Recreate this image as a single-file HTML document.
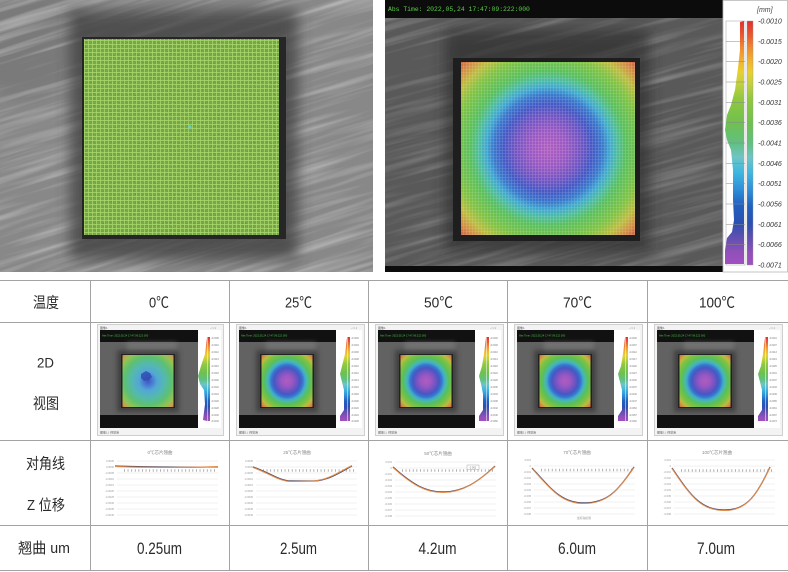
<!DOCTYPE html>
<html><head><meta charset="utf-8">
<style>
html,body{margin:0;padding:0;background:#fff;}
body{width:788px;height:572px;overflow:hidden;}
svg{display:block;font-family:"Liberation Sans","Noto Sans CJK SC",sans-serif;}
</style></head>
<body>
<svg width="788" height="572" viewBox="0 0 788 572" xmlns="http://www.w3.org/2000/svg">
<defs>
  <filter id="streak" x="0" y="0" width="1" height="1">
    <feTurbulence type="fractalNoise" baseFrequency="0.006 0.14" numOctaves="3" seed="4"/>
    <feColorMatrix type="matrix" values="0 0 0 0 1  0 0 0 0 1  0 0 0 0 1  1.6 0 0 0 -0.72"/>
  </filter>
  <filter id="speck" x="0" y="0" width="1" height="1">
    <feTurbulence type="fractalNoise" baseFrequency="0.9" numOctaves="1" seed="7"/>
    <feColorMatrix type="matrix" values="0 0 0 0 0.1  0 0 0 0 0.15  0 0 0 0 0.05  2.2 0 0 0 -1.0"/>
  </filter>
  <filter id="blur7" x="-0.3" y="-0.3" width="1.6" height="1.6"><feGaussianBlur stdDeviation="7"/></filter>
  <filter id="blur2" x="-0.3" y="-0.3" width="1.6" height="1.6"><feGaussianBlur stdDeviation="2.5"/></filter>
  <pattern id="ggrid" width="4" height="4" patternUnits="userSpaceOnUse">
    <path d="M0 0.5H4M0.5 0V4" stroke="#b4e474" stroke-width="0.7" fill="none"/>
  </pattern>
  <pattern id="wgrid" width="3" height="3" patternUnits="userSpaceOnUse">
    <path d="M0 0.5H3M0.5 0V3" stroke="#ffffff" stroke-width="0.6" fill="none" opacity="0.22"/>
  </pattern>
  <radialGradient id="warp" cx="0.5" cy="0.5" r="0.71">
    <stop offset="0" stop-color="#b05cc0"/>
    <stop offset="0.15" stop-color="#9a58c2"/>
    <stop offset="0.27" stop-color="#7054c2"/>
    <stop offset="0.36" stop-color="#4458c4"/>
    <stop offset="0.44" stop-color="#3878cc"/>
    <stop offset="0.5" stop-color="#40a8d0"/>
    <stop offset="0.56" stop-color="#4cbca0"/>
    <stop offset="0.63" stop-color="#58bf5c"/>
    <stop offset="0.76" stop-color="#80c242"/>
    <stop offset="0.85" stop-color="#bcbc40"/>
    <stop offset="0.93" stop-color="#d48c44"/>
    <stop offset="1" stop-color="#cc6040"/>
  </radialGradient>
  <radialGradient id="warp0" cx="0.5" cy="0.5" r="0.71">
    <stop offset="0" stop-color="#3a58c0"/>
    <stop offset="0.12" stop-color="#4a78d0"/>
    <stop offset="0.25" stop-color="#52a6d6"/>
    <stop offset="0.45" stop-color="#54b8b2"/>
    <stop offset="0.65" stop-color="#5cc072"/>
    <stop offset="0.82" stop-color="#92c452"/>
    <stop offset="0.93" stop-color="#c8a050"/>
    <stop offset="1" stop-color="#d07048"/>
  </radialGradient>
  <linearGradient id="cbar" x1="0" y1="0" x2="0" y2="1">
    <stop offset="0" stop-color="#e03030"/>
    <stop offset="0.06" stop-color="#e85a30"/>
    <stop offset="0.11" stop-color="#f08a30"/>
    <stop offset="0.16" stop-color="#f0b030"/>
    <stop offset="0.21" stop-color="#e8d030"/>
    <stop offset="0.26" stop-color="#c0d040"/>
    <stop offset="0.32" stop-color="#90c840"/>
    <stop offset="0.42" stop-color="#70c050"/>
    <stop offset="0.5" stop-color="#60c080"/>
    <stop offset="0.56" stop-color="#70c4c4"/>
    <stop offset="0.62" stop-color="#40b8e0"/>
    <stop offset="0.69" stop-color="#3090d8"/>
    <stop offset="0.76" stop-color="#2060c0"/>
    <stop offset="0.83" stop-color="#2a50b0"/>
    <stop offset="0.89" stop-color="#6050b0"/>
    <stop offset="0.95" stop-color="#9050b8"/>
    <stop offset="1" stop-color="#a050c0"/>
  </linearGradient>
</defs>

<!-- ============ LEFT PHOTO ============ -->
<svg x="0" y="0" width="373" height="272">
  <rect width="373" height="272" fill="#888888"/>
  <ellipse cx="20" cy="40" rx="70" ry="60" fill="#6e6e6e" opacity="0.5" filter="url(#blur7)"/>
  <g transform="rotate(-17 186 136)" opacity="0.55">
    <rect x="-120" y="-160" width="620" height="600" filter="url(#streak)"/>
  </g>
  <rect x="70" y="10" width="228" height="250" fill="#383838" opacity="0.7" filter="url(#blur7)"/>
  <rect x="82" y="37" width="204" height="202" fill="#262626"/>
  <rect x="84" y="39" width="195" height="196" fill="#7cac4a"/>
  <rect x="84" y="39" width="195" height="196" filter="url(#speck)" opacity="0.75"/>
  <rect x="84" y="39" width="195" height="196" fill="url(#ggrid)" opacity="0.85"/>
  <circle cx="190" cy="127" r="1.6" fill="#5fd0d0"/>
</svg>

<!-- ============ RIGHT PHOTO ============ -->
<svg x="385" y="0" width="338" height="272">
  <rect width="338" height="272" fill="#595959"/>
  <g transform="rotate(-15 169 136)" opacity="0.35">
    <rect x="-120" y="-160" width="600" height="600" filter="url(#streak)"/>
  </g>
  <rect x="60" y="30" width="205" height="222" fill="#262626" opacity="0.6" filter="url(#blur7)"/>
  <rect x="68" y="58" width="187" height="183" fill="#1e1e1e"/>
  <rect x="76" y="62" width="174" height="173" fill="url(#warp)"/>
  <rect x="76" y="62" width="174" height="173" fill="url(#wgrid)"/>
  <rect x="0" y="0" width="338" height="18" fill="#0c0c0c"/>
  <text x="3" y="11" font-family="Liberation Mono, monospace" font-size="6.4" fill="#5ccc4a">Abs Time: 2022,05,24    17:47:09:222:000</text>
  <rect x="0" y="266" width="338" height="6" fill="#0c0c0c"/>
</svg>

<!-- colorbar panel -->
<rect x="723" y="0.5" width="64.5" height="271.5" fill="#fff" stroke="#b8b8b8" stroke-width="0.8"/>
<text x="757" y="12" font-size="7" font-style="italic" fill="#444">[mm]</text>
<rect x="726" y="21" width="19" height="244" fill="#fff" stroke="#a0a0a0" stroke-width="0.5"/>
<polygon points="744,21 740,22 740,50 738,68 735,90 731,105 727,115 725,130 727,140 731,150 733,170 733,200 734,220 732,232 727,238 725,250 725,264 744,264" fill="url(#cbar)"/>
<g stroke="#888" stroke-width="0.5">
  <path d="M726 41.3H745M726 61.7H745M726 82H745M726 102.3H745M726 122.7H745M726 143H745M726 163.3H745M726 183.7H745M726 204H745M726 224.3H745M726 244.7H745"/>
</g>
<rect x="747" y="21" width="6" height="244" fill="url(#cbar)" stroke="#999" stroke-width="0.4"/>
<g font-size="7" font-style="italic" fill="#333">
  <text x="758" y="23.5">-0.0010</text>
  <text x="758" y="43.8">-0.0015</text>
  <text x="758" y="64.2">-0.0020</text>
  <text x="758" y="84.5">-0.0025</text>
  <text x="758" y="104.8">-0.0031</text>
  <text x="758" y="125.2">-0.0036</text>
  <text x="758" y="145.5">-0.0041</text>
  <text x="758" y="165.8">-0.0046</text>
  <text x="758" y="186.1">-0.0051</text>
  <text x="758" y="206.5">-0.0056</text>
  <text x="758" y="226.8">-0.0061</text>
  <text x="758" y="247.1">-0.0066</text>
  <text x="758" y="267.5">-0.0071</text>
</g>

<!-- ============ TABLE ============ -->
<g stroke="#a3a3a3" stroke-width="1">
  <line x1="0" y1="280.5" x2="788" y2="280.5"/>
  <line x1="0" y1="322.5" x2="788" y2="322.5"/>
  <line x1="0" y1="440.5" x2="788" y2="440.5"/>
  <line x1="0" y1="525.5" x2="788" y2="525.5"/>
  <line x1="0" y1="570.5" x2="788" y2="570.5"/>
  <line x1="90.5" y1="280" x2="90.5" y2="571"/>
  <line x1="229.5" y1="280" x2="229.5" y2="571"/>
  <line x1="368.5" y1="280" x2="368.5" y2="571"/>
  <line x1="507.5" y1="280" x2="507.5" y2="571"/>
  <line x1="647.5" y1="280" x2="647.5" y2="571"/>
</g>

<g fill="#2a2a2a" font-size="15" text-anchor="middle">
  <text x="46" y="307.5" textLength="26" lengthAdjust="spacingAndGlyphs">温度</text>
  <text x="45.5" y="367.5" font-size="14" textLength="17" lengthAdjust="spacingAndGlyphs">2D</text>
  <text x="46" y="408.5" textLength="26" lengthAdjust="spacingAndGlyphs">视图</text>
  <text x="45.5" y="468.5" textLength="39" lengthAdjust="spacingAndGlyphs">对角线</text>
  <text x="46" y="510" textLength="38" lengthAdjust="spacingAndGlyphs">Z 位移</text>
  <text x="44" y="553" textLength="52" lengthAdjust="spacingAndGlyphs">翘曲 um</text>

  <text x="159" y="307.5" textLength="20" lengthAdjust="spacingAndGlyphs">0℃</text>
  <text x="298.5" y="307.5" textLength="27" lengthAdjust="spacingAndGlyphs">25℃</text>
  <text x="438.5" y="307.5" textLength="29" lengthAdjust="spacingAndGlyphs">50℃</text>
  <text x="577.5" y="307.5" textLength="29" lengthAdjust="spacingAndGlyphs">70℃</text>
  <text x="717" y="307.5" textLength="36" lengthAdjust="spacingAndGlyphs">100℃</text>

  <g font-size="16.5">
  <text x="159.5" y="554" textLength="45" lengthAdjust="spacingAndGlyphs">0.25um</text>
  <text x="298.5" y="554" textLength="37" lengthAdjust="spacingAndGlyphs">2.5um</text>
  <text x="437.5" y="554" textLength="38" lengthAdjust="spacingAndGlyphs">4.2um</text>
  <text x="577" y="554" textLength="38" lengthAdjust="spacingAndGlyphs">6.0um</text>
  <text x="716" y="554" textLength="38" lengthAdjust="spacingAndGlyphs">7.0um</text>
  </g>
</g>

<!-- ============ THUMBNAILS ============ -->
<g transform="translate(97,324)">
  <rect x="0.5" y="0.5" width="126" height="111" fill="#f3f3f3" stroke="#cfcfcf"/>
  <text x="3" y="4.8" font-size="3" fill="#555">图像1</text>
  <text x="113" y="4.8" font-size="3" fill="#777">- □ ×</text>
  <rect x="3" y="6" width="98" height="12" fill="#111"/>
  <text x="5" y="12.5" font-size="2.6" fill="#4c4">Abs Time: 2022,05,24    17:47:09:222:000</text>
  <rect x="3" y="18" width="98" height="73" fill="#626262"/>
  <rect x="30" y="18" width="50" height="12" fill="#8a8a8a" opacity="0.45" filter="url(#blur2)"/>
  <rect x="20" y="26" width="62" height="62" fill="#2a2a2a" opacity="0.6" filter="url(#blur2)"/>
  <rect x="24" y="30" width="54" height="54" fill="#222"/>
  <rect x="25.5" y="31" width="51" height="52" fill="url(#warp0)"/>
  <path d="M44 50l5-3 4 2 2 4-3 3-5 1-3-3z" fill="#3048b0" opacity="0.8"/>
  <rect x="3" y="91" width="98" height="13" fill="#111"/>
  <rect x="101" y="6" width="23" height="98" fill="#fff"/>
  <polygon points="110,14 108,30 104,42 101,52 103,60 107,66 108,80 106,96 110,97" fill="url(#cbar)"/>
  <rect x="110.5" y="13" width="2.5" height="84" fill="url(#cbar)"/>
  <g font-size="2.3" fill="#777">
    <text x="114" y="15">-0.0008</text><text x="114" y="22">-0.0010</text><text x="114" y="29">-0.0012</text><text x="114" y="36">-0.0014</text><text x="114" y="43">-0.0016</text><text x="114" y="50">-0.0018</text><text x="114" y="57">-0.0020</text><text x="114" y="64">-0.0022</text><text x="114" y="71">-0.0024</text><text x="114" y="78">-0.0026</text><text x="114" y="85">-0.0028</text><text x="114" y="92">-0.0030</text><text x="114" y="98">-0.0032</text>
  </g>
  <text x="3" y="109.5" font-size="3" fill="#666">图像1 | 视觉库</text>
</g>

<g transform="translate(236,324)">
  <rect x="0.5" y="0.5" width="128" height="111" fill="#f3f3f3" stroke="#cfcfcf"/>
  <text x="3" y="4.8" font-size="3" fill="#555">图像1</text>
  <text x="115" y="4.8" font-size="3" fill="#777">- □ ×</text>
  <rect x="3" y="6" width="97" height="12" fill="#111"/>
  <text x="5" y="12.5" font-size="2.6" fill="#4c4">Abs Time: 2022,05,24    17:47:09:222:000</text>
  <rect x="3" y="18" width="97" height="73" fill="#626262"/>
  <rect x="30" y="18" width="50" height="12" fill="#8a8a8a" opacity="0.45" filter="url(#blur2)"/>
  <rect x="20" y="26" width="62" height="62" fill="#2a2a2a" opacity="0.6" filter="url(#blur2)"/>
  <rect x="24" y="30" width="54" height="54" fill="#222"/>
  <rect x="25.5" y="31" width="51" height="52" fill="url(#warp)"/>
  <rect x="3" y="91" width="97" height="13" fill="#111"/>
  <rect x="100" y="6" width="26" height="98" fill="#fff"/>
  <polygon points="111,14 109,30 106,42 104,50 106,58 108,66 108,86 104,92 104,97 111,97" fill="url(#cbar)"/>
  <rect x="111.5" y="13" width="2.5" height="84" fill="url(#cbar)"/>
  <g font-size="2.3" fill="#777">
    <text x="115" y="15">-0.0002</text><text x="115" y="22">-0.0004</text><text x="115" y="29">-0.0006</text><text x="115" y="36">-0.0008</text><text x="115" y="43">-0.0010</text><text x="115" y="50">-0.0012</text><text x="115" y="57">-0.0014</text><text x="115" y="64">-0.0016</text><text x="115" y="71">-0.0018</text><text x="115" y="78">-0.0020</text><text x="115" y="85">-0.0022</text><text x="115" y="92">-0.0024</text><text x="115" y="98">-0.0026</text>
  </g>
  <text x="3" y="109.5" font-size="3" fill="#666">图像1 | 视觉库</text>
</g>

<g transform="translate(375,324)">
  <rect x="0.5" y="0.5" width="128" height="111" fill="#f3f3f3" stroke="#cfcfcf"/>
  <text x="3" y="4.8" font-size="3" fill="#555">图像1</text>
  <text x="115" y="4.8" font-size="3" fill="#777">- □ ×</text>
  <rect x="3" y="6" width="97" height="12" fill="#111"/>
  <text x="5" y="12.5" font-size="2.6" fill="#4c4">Abs Time: 2022,05,24    17:47:09:222:000</text>
  <rect x="3" y="18" width="97" height="73" fill="#626262"/>
  <rect x="30" y="18" width="50" height="12" fill="#8a8a8a" opacity="0.45" filter="url(#blur2)"/>
  <rect x="20" y="26" width="62" height="62" fill="#2a2a2a" opacity="0.6" filter="url(#blur2)"/>
  <rect x="24" y="30" width="54" height="54" fill="#222"/>
  <rect x="25.5" y="31" width="51" height="52" fill="url(#warp)"/>
  <rect x="3" y="91" width="97" height="13" fill="#111"/>
  <rect x="100" y="6" width="26" height="98" fill="#fff"/>
  <polygon points="111,14 109,30 107,42 104,52 106,60 108,70 108,86 104,92 104,97 111,97" fill="url(#cbar)"/>
  <rect x="111.5" y="13" width="2.5" height="84" fill="url(#cbar)"/>
  <g font-size="2.3" fill="#777">
    <text x="115" y="15">-0.0002</text><text x="115" y="22">-0.0006</text><text x="115" y="29">-0.0010</text><text x="115" y="36">-0.0014</text><text x="115" y="43">-0.0018</text><text x="115" y="50">-0.0022</text><text x="115" y="57">-0.0026</text><text x="115" y="64">-0.0030</text><text x="115" y="71">-0.0034</text><text x="115" y="78">-0.0038</text><text x="115" y="85">-0.0042</text><text x="115" y="92">-0.0046</text><text x="115" y="98">-0.0050</text>
  </g>
  <text x="3" y="109.5" font-size="3" fill="#666">图像1 | 视觉库</text>
</g>

<g transform="translate(514,324)">
  <rect x="0.5" y="0.5" width="128" height="111" fill="#f3f3f3" stroke="#cfcfcf"/>
  <text x="3" y="4.8" font-size="3" fill="#555">图像1</text>
  <text x="115" y="4.8" font-size="3" fill="#777">- □ ×</text>
  <rect x="3" y="6" width="97" height="12" fill="#111"/>
  <text x="5" y="12.5" font-size="2.6" fill="#4c4">Abs Time: 2022,05,24    17:47:09:222:000</text>
  <rect x="3" y="18" width="97" height="73" fill="#626262"/>
  <rect x="30" y="18" width="50" height="12" fill="#8a8a8a" opacity="0.45" filter="url(#blur2)"/>
  <rect x="20" y="26" width="62" height="62" fill="#2a2a2a" opacity="0.6" filter="url(#blur2)"/>
  <rect x="24" y="30" width="54" height="54" fill="#222"/>
  <rect x="25.5" y="31" width="51" height="52" fill="url(#warp)"/>
  <rect x="3" y="91" width="97" height="13" fill="#111"/>
  <rect x="100" y="6" width="26" height="98" fill="#fff"/>
  <polygon points="111,14 109,30 107,42 104,50 106,58 108,66 108,86 104,92 104,97 111,97" fill="url(#cbar)"/>
  <rect x="111.5" y="13" width="2.5" height="84" fill="url(#cbar)"/>
  <g font-size="2.3" fill="#777">
    <text x="115" y="15">-0.0002</text><text x="115" y="22">-0.0007</text><text x="115" y="29">-0.0012</text><text x="115" y="36">-0.0017</text><text x="115" y="43">-0.0022</text><text x="115" y="50">-0.0027</text><text x="115" y="57">-0.0032</text><text x="115" y="64">-0.0037</text><text x="115" y="71">-0.0042</text><text x="115" y="78">-0.0047</text><text x="115" y="85">-0.0052</text><text x="115" y="92">-0.0057</text><text x="115" y="98">-0.0062</text>
  </g>
  <text x="3" y="109.5" font-size="3" fill="#666">图像1 | 视觉库</text>
</g>

<g transform="translate(654,324)">
  <rect x="0.5" y="0.5" width="128" height="111" fill="#f3f3f3" stroke="#cfcfcf"/>
  <text x="3" y="4.8" font-size="3" fill="#555">图像1</text>
  <text x="115" y="4.8" font-size="3" fill="#777">- □ ×</text>
  <rect x="3" y="6" width="97" height="12" fill="#111"/>
  <text x="5" y="12.5" font-size="2.6" fill="#4c4">Abs Time: 2022,05,24    17:47:09:222:000</text>
  <rect x="3" y="18" width="97" height="73" fill="#626262"/>
  <rect x="30" y="18" width="50" height="12" fill="#8a8a8a" opacity="0.45" filter="url(#blur2)"/>
  <rect x="20" y="26" width="62" height="62" fill="#2a2a2a" opacity="0.6" filter="url(#blur2)"/>
  <rect x="24" y="30" width="54" height="54" fill="#222"/>
  <rect x="25.5" y="31" width="51" height="52" fill="url(#warp)"/>
  <rect x="3" y="91" width="97" height="13" fill="#111"/>
  <rect x="100" y="6" width="26" height="98" fill="#fff"/>
  <polygon points="111,14 109,30 107,42 104,50 106,58 108,66 108,86 104,92 104,97 111,97" fill="url(#cbar)"/>
  <rect x="111.5" y="13" width="2.5" height="84" fill="url(#cbar)"/>
  <g font-size="2.3" fill="#777">
    <text x="115" y="15">-0.0001</text><text x="115" y="22">-0.0007</text><text x="115" y="29">-0.0013</text><text x="115" y="36">-0.0019</text><text x="115" y="43">-0.0025</text><text x="115" y="50">-0.0031</text><text x="115" y="57">-0.0037</text><text x="115" y="64">-0.0043</text><text x="115" y="71">-0.0049</text><text x="115" y="78">-0.0055</text><text x="115" y="85">-0.0061</text><text x="115" y="92">-0.0067</text><text x="115" y="98">-0.0073</text>
  </g>
  <text x="3" y="109.5" font-size="3" fill="#666">图像1 | 视觉库</text>
</g>

<!-- ============ CHARTS ============ -->
<g transform="translate(90,0)">
  <text x="70" y="454" font-size="4.5" text-anchor="middle" fill="#888">0℃芯片翘曲</text>
  <path d="M27 461H128M27 467H128M27 473H128M27 479H128M27 485H128M27 491H128M27 497H128M27 503H128M27 509H128M27 515H128" stroke="#e4e4e4" stroke-width="0.6"/>
  <g font-size="2.6" fill="#999" text-anchor="end">
    <text x="24" y="462">0.0005</text><text x="24" y="468">0.0000</text><text x="24" y="474">-0.0005</text><text x="24" y="480">-0.0010</text><text x="24" y="486">-0.0015</text><text x="24" y="492">-0.0020</text><text x="24" y="498">-0.0025</text><text x="24" y="504">-0.0030</text><text x="24" y="510">-0.0035</text><text x="24" y="516">-0.0040</text>
  </g>
  <line x1="34" y1="470.5" x2="127" y2="470.5" stroke="#a8a8a8" stroke-width="2.4" stroke-dasharray="0.9 2.7"/>
  <path d="M25 466 C60 467 90 467.5 128 467" stroke="#3c4068" stroke-width="1.1" fill="none"/>
  <path d="M25 466.6 C60 467.6 90 468 128 466.6" stroke="#e08a48" stroke-width="1.1" fill="none"/>
</g>

<g transform="translate(229,0)">
  <text x="68" y="454" font-size="4.5" text-anchor="middle" fill="#888">25℃芯片翘曲</text>
  <path d="M27 461H128M27 467H128M27 473H128M27 479H128M27 485H128M27 491H128M27 497H128M27 503H128M27 509H128M27 515H128" stroke="#e4e4e4" stroke-width="0.6"/>
  <g font-size="2.6" fill="#999" text-anchor="end">
    <text x="24" y="462">0.0005</text><text x="24" y="468">0.0000</text><text x="24" y="474">-0.0005</text><text x="24" y="480">-0.0010</text><text x="24" y="486">-0.0015</text><text x="24" y="492">-0.0020</text><text x="24" y="498">-0.0025</text><text x="24" y="504">-0.0030</text><text x="24" y="510">-0.0035</text><text x="24" y="516">-0.0040</text>
  </g>
  <line x1="34" y1="470.5" x2="127" y2="470.5" stroke="#a8a8a8" stroke-width="2.4" stroke-dasharray="0.9 2.7"/>
  <path d="M24 467 C40 472 50 481 62 481 L85 481 C100 480 110 473 123 466" stroke="#3c4068" stroke-width="1.2" fill="none"/>
  <path d="M24 467.5 C40 473 50 481.5 62 481.5 L85 481 C100 479.5 110 472 123 465.5" stroke="#e08a48" stroke-width="1.1" fill="none"/>
</g>

<g transform="translate(368,0)">
  <text x="70" y="455" font-size="4.5" text-anchor="middle" fill="#888">50℃芯片翘曲</text>
  <path d="M27 462H128M27 468H128M27 474H128M27 480H128M27 486H128M27 492H128M27 498H128M27 504H128M27 510H128M27 516H128" stroke="#e4e4e4" stroke-width="0.6"/>
  <g font-size="2.6" fill="#999" text-anchor="end">
    <text x="24" y="463">0.001</text><text x="24" y="469">0</text><text x="24" y="475">-0.001</text><text x="24" y="481">-0.002</text><text x="24" y="487">-0.003</text><text x="24" y="493">-0.004</text><text x="24" y="499">-0.005</text><text x="24" y="505">-0.006</text><text x="24" y="511">-0.007</text><text x="24" y="517">-0.008</text>
  </g>
  <line x1="34" y1="470.5" x2="127" y2="470.5" stroke="#a8a8a8" stroke-width="2.4" stroke-dasharray="0.9 2.7"/>
  <rect x="99" y="465" width="12" height="4.5" fill="#fff" stroke="#999" stroke-width="0.4"/>
  <text x="105" y="468.5" font-size="2.6" text-anchor="middle" fill="#777">0.002</text>
  <path d="M25 467 C45 485 58 492 75 492 C95 492 110 482 127 466" stroke="#3c4068" stroke-width="1.2" fill="none"/>
  <path d="M25 467.5 C45 485.5 58 492.5 75 492.5 C95 492.5 110 481.5 127 466.5" stroke="#e08a48" stroke-width="1.1" fill="none"/>
</g>

<g transform="translate(507,0)">
  <text x="70" y="454" font-size="4.5" text-anchor="middle" fill="#888">70℃芯片翘曲</text>
  <path d="M27 466H128M27 472H128M27 478H128M27 484H128M27 490H128M27 496H128M27 502H128M27 508H128M27 514H128" stroke="#e4e4e4" stroke-width="0.6"/>
  <g font-size="2.6" fill="#999" text-anchor="end">
    <text x="24" y="461">0.001</text><text x="24" y="467">0</text><text x="24" y="473">-0.001</text><text x="24" y="479">-0.002</text><text x="24" y="485">-0.003</text><text x="24" y="491">-0.004</text><text x="24" y="497">-0.005</text><text x="24" y="503">-0.006</text><text x="24" y="509">-0.007</text><text x="24" y="515">-0.008</text>
  </g>
  <line x1="34" y1="470" x2="127" y2="470" stroke="#a8a8a8" stroke-width="2.4" stroke-dasharray="0.9 2.7"/>
  <path d="M25 468 C45 490 55 503 77 503 C100 503 110 492 127 467" stroke="#3c4068" stroke-width="1.2" fill="none"/>
  <path d="M25 468.5 C45 490.5 55 503.5 77 503.5 C100 503.5 110 491.5 127 467.5" stroke="#e08a48" stroke-width="1.1" fill="none"/>
  <text x="77" y="519" font-size="2.8" text-anchor="middle" fill="#999">坐标轴标题</text>
</g>

<g transform="translate(647,0)">
  <text x="70" y="454" font-size="4.5" text-anchor="middle" fill="#888">100℃芯片翘曲</text>
  <path d="M27 460H128M27 466H128M27 472H128M27 478H128M27 484H128M27 490H128M27 496H128M27 502H128M27 508H128M27 514H128" stroke="#e4e4e4" stroke-width="0.6"/>
  <g font-size="2.6" fill="#999" text-anchor="end">
    <text x="24" y="461">0.001</text><text x="24" y="467">0</text><text x="24" y="473">-0.001</text><text x="24" y="479">-0.002</text><text x="24" y="485">-0.003</text><text x="24" y="491">-0.004</text><text x="24" y="497">-0.005</text><text x="24" y="503">-0.006</text><text x="24" y="509">-0.007</text><text x="24" y="515">-0.008</text>
  </g>
  <line x1="34" y1="470.5" x2="127" y2="470.5" stroke="#a8a8a8" stroke-width="2.4" stroke-dasharray="0.9 2.7"/>
  <path d="M25 468 C45 498 55 510 78 510 C100 510 110 495 123 467" stroke="#3c4068" stroke-width="1.2" fill="none"/>
  <path d="M25 468.5 C45 498.5 55 510.5 78 510.5 C100 510.5 110 494.5 123 467.5" stroke="#e08a48" stroke-width="1.1" fill="none"/>
</g>
</svg>
</body></html>
